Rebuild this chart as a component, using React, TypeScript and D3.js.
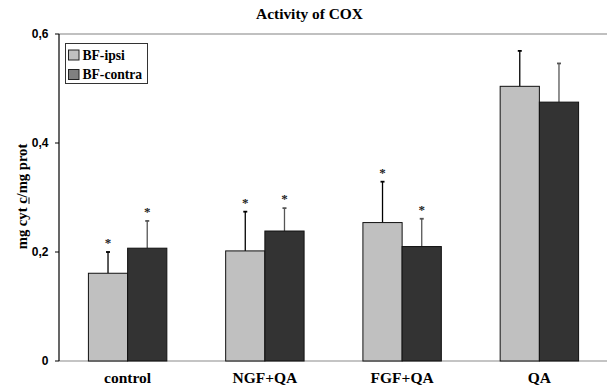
import React, { useLayoutEffect, useRef, useState } from "react";
import * as d3 from "d3";

const categories = ["control", "NGF+QA", "FGF+QA", "QA"];
const seriesNames = ["BF-ipsi", "BF-contra"];
const ipsiValues = [0.161, 0.202, 0.254, 0.504];
const ipsiErrors = [0.039, 0.072, 0.075, 0.065];
const contraValues = [0.207, 0.2385, 0.21, 0.475];
const contraErrors = [0.05, 0.042, 0.051, 0.071];
const ipsiStars = [true, true, true, false];
const contraStars = [true, true, true, false];
const yTicks = [0, 0.2, 0.4, 0.6];

const WIDTH = 607;
const HEIGHT = 387;
const MARGIN_LEFT = 59;
const PLOT_RIGHT = 608;
const PLOT_TOP = 34;
const PLOT_BOTTOM = 361;

const SERIF = "Liberation Serif";
const SANS = "Liberation Sans";

const fills = ["#c0c0c0", "#333333"];
const legendFills = ["#c0c0c0", "#808080"];
const whiskerColors = ["#000000", "#555555"];

const LABEL_PRE = "mg cyt ";
const LABEL_UNDER = "c";
const LABEL_POST = "/mg prot";

export default function App() {
  const labelRef = useRef<SVGTextElement>(null);
  const [underline, setUnderline] = useState<{ x1: number; x2: number }>({ x1: -7.5, x2: -1 });

  // underline the "c" of the y label (measured, since tspan decoration isn't drawn)
  useLayoutEffect(() => {
    const el = labelRef.current;
    if (!el) return;
    try {
      const start = el.getStartPositionOfChar(LABEL_PRE.length);
      const end = el.getEndPositionOfChar(LABEL_PRE.length);
      setUnderline({ x1: start.x, x2: end.x });
    } catch (e) {
      // keep estimate
    }
  }, []);

  const x = d3
    .scaleBand()
    .domain(categories)
    .range([MARGIN_LEFT, PLOT_RIGHT])
    .paddingInner(0)
    .paddingOuter(0);

  const barW = x.bandwidth() / 3.5;
  const inner = d3
    .scaleBand()
    .domain(seriesNames)
    .range([(x.bandwidth() - 2 * barW) / 2, (x.bandwidth() + 2 * barW) / 2]);

  const y = d3.scaleLinear().domain([0, 0.6]).range([PLOT_BOTTOM, PLOT_TOP]);
  const fmt = (v: number) => (v === 0 ? "0" : d3.format(".1f")(v).replace(".", ","));

  const series = [
    { name: seriesNames[0], values: ipsiValues, errors: ipsiErrors, stars: ipsiStars },
    { name: seriesNames[1], values: contraValues, errors: contraErrors, stars: contraStars },
  ];

  const serifBold = { fontFamily: SERIF, fontWeight: 700 } as const;

  return (
    <svg
      width={WIDTH}
      height={HEIGHT}
      style={{ position: "absolute", left: 0, top: 0, background: "white" }}
    >
      {/* title */}
      <text x={309.5} y={19} textAnchor="middle" style={{ ...serifBold, fontSize: 15.4 }}>
        Activity of COX
      </text>

      {/* gray top border and baseline */}
      <line x1={MARGIN_LEFT} x2={PLOT_RIGHT} y1={PLOT_TOP} y2={PLOT_TOP} stroke="#c0c0c0" strokeWidth={2} />
      <line x1={MARGIN_LEFT} x2={PLOT_RIGHT} y1={y(0)} y2={y(0)} stroke="#b0b0b0" strokeWidth={1.5} />

      {/* bars */}
      {series.map((s, si) => (
        <g key={s.name}>
          {categories.map((c, i) => {
            const bx = x(c)! + inner(s.name)!;
            const top = y(s.values[i]);
            const errTop = y(s.values[i] + s.errors[i]);
            const cx = bx + barW / 2;
            return (
              <g key={c}>
                <line x1={cx} x2={cx} y1={top} y2={errTop} stroke={whiskerColors[si]} strokeWidth={1.3} />
                <line x1={cx - 2} x2={cx + 2} y1={errTop} y2={errTop} stroke={whiskerColors[si]} strokeWidth={1.8} />
                <rect
                  x={bx}
                  y={top}
                  width={barW}
                  height={y(0) - top}
                  fill={fills[si]}
                  stroke="#111"
                  strokeWidth={1}
                />
                {s.stars[i] && (
                  <text
                    x={cx}
                    y={errTop - 5}
                    textAnchor="middle"
                    fill="#222"
                    style={{ ...serifBold, fontSize: 13 }}
                  >
                    *
                  </text>
                )}
              </g>
            );
          })}
        </g>
      ))}

      {/* y axis */}
      <line x1={MARGIN_LEFT} x2={MARGIN_LEFT} y1={PLOT_TOP} y2={PLOT_BOTTOM} stroke="#000" strokeWidth={1.2} />
      {yTicks.map((t) => (
        <g key={t}>
          <line x1={MARGIN_LEFT - 4} x2={MARGIN_LEFT} y1={y(t)} y2={y(t)} stroke="#000" strokeWidth={1} />
          <text
            x={48.5}
            y={y(t) + 4}
            textAnchor="end"
            style={{ fontFamily: SANS, fontWeight: 700, fontSize: 12 }}
          >
            {fmt(t)}
          </text>
        </g>
      ))}

      {/* y label */}
      <g transform="translate(27,196.5) rotate(-90)">
        <text ref={labelRef} textAnchor="middle" style={{ ...serifBold, fontSize: 14.6 }}>
          {LABEL_PRE + LABEL_UNDER + LABEL_POST}
        </text>
        <line x1={underline.x1} x2={underline.x2} y1={2} y2={2} stroke="#000" strokeWidth={1} />
      </g>

      {/* category labels */}
      {categories.map((c) => (
        <text
          key={c}
          x={x(c)! + x.bandwidth() / 2}
          y={383}
          textAnchor="middle"
          style={{ ...serifBold, fontSize: 15.5 }}
        >
          {c}
        </text>
      ))}

      {/* legend */}
      <g>
        <rect x={65.5} y={43.5} width={82} height={40} fill="white" stroke="#333" strokeWidth={1} />
        {seriesNames.map((n, i) => (
          <g key={n} transform={`translate(0, ${i * 19.5})`}>
            <rect x={68.5} y={50} width={10.5} height={10} fill={legendFills[i]} stroke="#222" strokeWidth={1} />
            <text x={82.5} y={59.5} style={{ ...serifBold, fontSize: 13.6 }}>
              {n}
            </text>
          </g>
        ))}
      </g>
    </svg>
  );
}
